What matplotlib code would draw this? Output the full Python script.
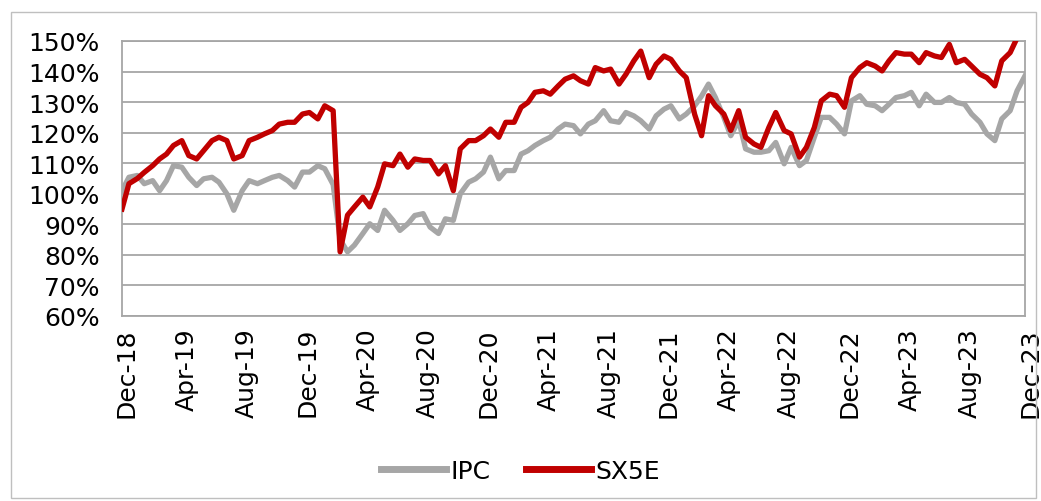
import numpy as np
import pandas as pd
import matplotlib
matplotlib.use("Agg")
import matplotlib.pyplot as plt
import matplotlib.dates as mdates
from matplotlib.patches import Rectangle
from matplotlib.ticker import FuncFormatter, MultipleLocator
import matplotlib.transforms as mtransforms

# semi-monthly observations, Dec-18 .. Dec-23 (rebased, %)
dates = pd.date_range("2018-12-01", periods=121, freq="SMS")

ipc = [
    101, 105.4, 106, 103.3, 104.3, 101, 104.3, 109.2, 108.7, 105.4,
    102.7, 104.9, 105.4, 103.8, 100, 94.6, 101, 104.3, 103.3, 104.3,
    105.4, 106, 104.3, 102.2, 107.1, 107.1, 109.2, 108.2, 103, 85,
    81, 83.2, 87, 90.2, 88, 94.6, 91.3, 88, 90.2, 92.9,
    93.5, 89.1, 87, 91.8, 91.3, 100, 103.8, 104.9, 107.1, 112,
    104.9, 107.6, 107.6, 113, 114.1, 115.8, 117.4, 118.5, 121.2, 122.8,
    122.3, 119.6, 122.8, 123.9, 127.2, 123.9, 123.4, 126.6, 125.5, 123.9,
    121.2, 125.5, 127.7, 128.8, 124.5, 126.1, 128.8, 132, 135.9, 131.5,
    125, 119, 124, 114.7, 113.6, 113.6, 114.1, 116.8, 109.8, 115.2,
    109.2, 110.9, 118.5, 125, 125, 122.8, 119.6, 130.4, 132.1, 129.3,
    128.8, 127.2, 129.3, 131.5, 132.1, 133.2, 128.8, 132.6, 129.9, 129.9,
    131.5, 129.9, 129.3, 126.1, 123.4, 119.6, 117.4, 124.5, 127.2, 133.7,
    138.6,
]

sx5e = [
    95, 103.3, 105, 107, 109.2, 111.4, 113, 115.8, 117.4, 112.5,
    111.4, 114.1, 117.4, 118.5, 117.4, 111.4, 112.5, 117.4, 118.5, 119.6,
    120.7, 122.8, 123.4, 123.4, 126.1, 126.6, 124.5, 128.8, 127.2, 81,
    93, 95.7, 98.9, 95.7, 102.2, 109.8, 109.2, 113, 108.7, 111.4,
    110.9, 110.9, 106.5, 109.2, 101, 114.7, 117.4, 117.4, 119, 121.2,
    118.5, 123.4, 123.4, 128.3, 129.9, 133.2, 133.7, 132.6, 135.3, 137.5,
    138.6, 137, 135.9, 141.3, 140.2, 140.8, 135.9, 139.1, 143.5, 146.7,
    138, 142.4, 145.1, 144, 140.2, 138, 126, 119, 132.1, 128.8,
    126.1, 120.7, 127.2, 118.5, 116.3, 115.2, 121.7, 126.6, 120.7, 119.6,
    112, 115.2, 121.7, 130.4, 132.6, 132.1, 128.3, 138, 141.3, 142.9,
    141.8, 140.2, 143.5, 146.2, 145.7, 145.7, 142.9, 146.2, 145.1, 144.6,
    148.9, 142.9, 144, 141.8, 139.1, 138, 135.3, 143.5, 146.2, 151,
    153,
]

fig = plt.figure(figsize=(10.41, 5.02), dpi=100)
ax = fig.add_axes([122 / 1041, 1 - 317 / 502, 903 / 1041, 275 / 502])

# outer chart border
fig.patches.append(Rectangle((11 / 1041, 3 / 502), 1025 / 1041, 486 / 502,
                             transform=fig.transFigure, fill=False,
                             edgecolor="#BFBFBF", linewidth=1))

ax.plot(dates, ipc, color="#A6A6A6", linewidth=3.8, label="IPC",
        solid_joinstyle="round", zorder=3)
ax.plot(dates, sx5e, color="#C00000", linewidth=3.8, label="SX5E",
        solid_joinstyle="round", zorder=4)

ax.set_xlim(pd.Timestamp("2018-12-01"), pd.Timestamp("2023-12-01"))
ax.set_ylim(60, 150)
ax.yaxis.set_major_locator(MultipleLocator(10))
ax.yaxis.set_major_formatter(FuncFormatter(lambda v, p: f"{v:.0f}%"))
ax.xaxis.set_major_locator(mdates.MonthLocator(bymonth=[4, 8, 12]))
ax.xaxis.set_major_formatter(mdates.DateFormatter("%b-%y"))

ax.grid(axis="y", color="#A6A6A6", linewidth=1.3)
ax.set_axisbelow(True)
for s in ax.spines.values():
    s.set_color("#A6A6A6")
    s.set_linewidth(1.3)

ax.tick_params(axis="y", length=0, pad=16, labelsize=18)
ax.tick_params(axis="x", length=0, pad=8, labelsize=18, rotation=90)
offset = mtransforms.ScaledTranslation(5 / 100, 0, fig.dpi_scale_trans)
for lbl in ax.get_xticklabels():
    lbl.set_transform(lbl.get_transform() + offset)

leg = ax.legend(loc="center", bbox_to_anchor=(0.5, (502 - 472) / 502),
                bbox_transform=fig.transFigure, ncol=2, frameon=False,
                fontsize=18, handlelength=2.6, handletextpad=0.2,
                columnspacing=1.4)
for line in leg.get_lines():
    line.set_linewidth(5)

fig.savefig("out.png", dpi=100)
